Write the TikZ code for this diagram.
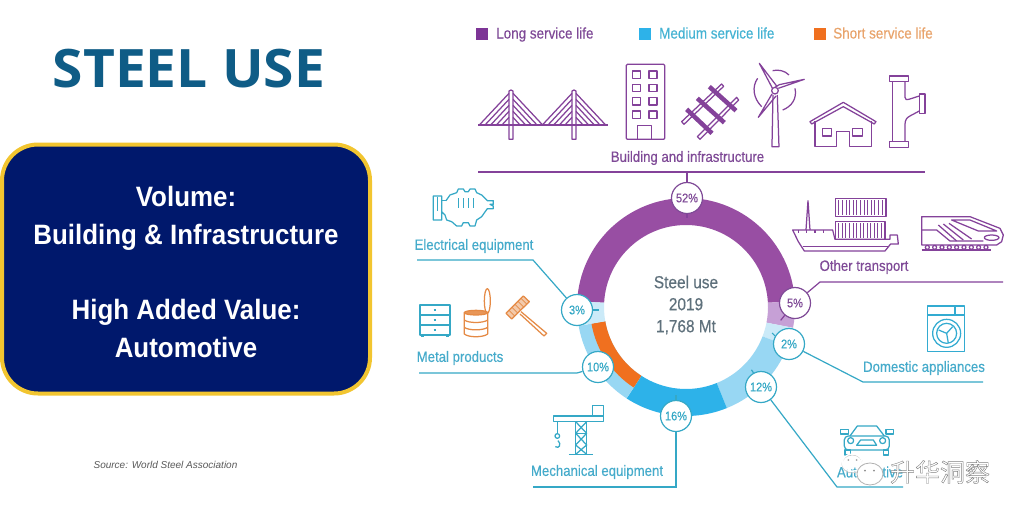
\documentclass[tikz,border=0pt]{standalone}
\usepackage{fontspec}
\setmainfont{Liberation Sans}
\newfontfamily\nar[FakeStretch=0.88,FakeBold=0.35]{Liberation Sans}
\newfontfamily\narb[FakeStretch=0.925]{Liberation Sans Bold}
\newfontfamily\titlef[FakeStretch=1.04]{Open Sans Bold}
\newfontfamily\cjk{Noto Sans CJK SC}
\definecolor{pur}{HTML}{84429A}
\definecolor{purT}{HTML}{7F4A97}
\definecolor{purS}{HTML}{7D3596}
\definecolor{purR}{HTML}{984EA3}
\definecolor{purL}{HTML}{C6A0D6}
\definecolor{palB}{HTML}{CBEAF8}
\definecolor{ligB}{HTML}{98D7F3}
\definecolor{midB}{HTML}{2DB2E9}
\definecolor{org}{HTML}{F0701F}
\definecolor{orgI}{HTML}{E58A45}
\definecolor{orgT}{HTML}{E9A46C}
\definecolor{teal}{HTML}{35A8C6}
\definecolor{tealT}{HTML}{45ABCB}
\definecolor{medT}{HTML}{45B3D3}
\definecolor{greyT}{HTML}{5F717C}
\definecolor{navy}{HTML}{00186C}
\definecolor{gold}{HTML}{F2C530}
\definecolor{titleC}{HTML}{0F5C86}
\tikzset{
  pct/.style={circle,draw=#1,line width=1.2pt,fill=white,minimum size=31pt,inner sep=0pt,text=#1,font=\nar\fontsize{12.5}{14}\selectfont},
  lab/.style={inner sep=0pt,text=#1,font=\nar\fontsize{15}{16}\selectfont},
  leg/.style={inner sep=0pt,text=#1,font=\nar\fontsize{15.3}{16}\selectfont,anchor=base west},
  legsq/.style={fill=#1,draw=none,minimum size=12pt,inner sep=0pt},
  conn/.style={draw=#1,line width=1.2pt},
  icP/.style={draw=pur,line width=1.25pt,line join=round},
  icT/.style={draw=teal,line width=1.25pt,line join=round},
  icO/.style={draw=orgI,line width=1.25pt,line join=round},
}
\newcommand{\seg}[5]{\fill[#1] (#2:#5) arc[start angle=#2,end angle=#3,radius=#5] -- (#3:#4) arc[start angle=#3,end angle=#2,radius=#4] -- cycle;}
\begin{document}
\begin{tikzpicture}[x=1pt,y=-1pt]
\useasboundingbox (0,0) rectangle (1024,517);
\fill[white] (0,0) rectangle (1024,517);

% left panel
\node[inner sep=0pt,text=titleC,font=\titlef\fontsize{53}{56}\selectfont] (title) at (189,69) {STEEL USE};
\node[draw=gold,fill=navy,line width=4pt,rounded corners=36pt,minimum width=368pt,minimum height=249pt,inner sep=0pt] (box) at (186,269) {};
\node[align=center,text=white,inner sep=0pt,font=\narb\fontsize{28}{38}\selectfont] (boxtext) at (186,271.5) {Volume:\\Building \& Infrastructure\\[37pt]High Added Value:\\Automotive};
\node[inner sep=0pt,text=black!65,font=\itshape\fontsize{10}{12}\selectfont] (src) at (165.5,465) {Source: World Steel Association};

% legend
\node[legsq=purS] (s1) at (481.5,33.5) {};
\node[leg=purT] (l1) at (496,38.5) {Long service life};
\node[legsq=midB] (s2) at (645,33.5) {};
\node[leg=medT] (l2) at (659,38.5) {Medium service life};
\node[legsq=org] (s3) at (820,33.5) {};
\node[leg=orgT] (l3) at (833,38.5) {Short service life};

% ring
\begin{scope}[shift={(686,307)},y=1pt]
\seg{purR}{3}{177}{82}{109}
\seg{purL}{3}{-11}{82}{109}
\seg{palB}{-11}{-21}{82}{109}
\seg{ligB}{-21}{-68}{82}{109}
\seg{midB}{-68}{-123}{82}{109}
\seg{ligB}{-123}{-170}{82}{109}
\seg{org}{-123}{-170}{82}{96}
\seg{palB}{177}{190}{82}{109}
\end{scope}
\node[align=center,inner sep=0pt,text=greyT,font=\nar\fontsize{17.5}{22}\selectfont] (mid) at (686,305) {Steel use\\2019\\1,768 Mt};

% connector end points
\coordinate (topL) at (478,172);
\coordinate (topR) at (925,172);
\coordinate (topM) at (687,172);
\coordinate (c5a) at (820,282);
\coordinate (c5b) at (1003,282);
\coordinate (c2a) at (863,382);
\coordinate (c2b) at (983,382);
\coordinate (c12a) at (837,487);
\coordinate (c12b) at (903,487);
\coordinate (c16a) at (676,487);
\coordinate (c16b) at (533,487);
\coordinate (c10a) at (577,373);
\coordinate (c10b) at (419,373);
\coordinate (c3a) at (533,260);
\coordinate (c3b) at (417,260);

% percentage nodes
\node[pct=purT] (p52) at (687,198) {52\%};
\node[pct=purT] (p5) at (795,303) {5\%};
\node[pct=teal] (p2) at (789,344) {2\%};
\node[pct=teal] (p12) at (761,387) {12\%};
\node[pct=teal] (p16) at (676,416) {16\%};
\node[pct=teal] (p10) at (598,367) {10\%};
\node[pct=teal] (p3) at (577,310) {3\%};

% connectors
\draw[conn=pur] (topL) -- (topR);
\draw[conn=pur] (topM) -- (p52);
\draw[conn=pur] (p52.south) -- ++(0,4);
\draw[conn=pur] (p5) -- (c5a) -- (c5b);
\draw[conn=pur] (p5.-130) -- ++(-4,5);
\draw[conn=teal] (p2) -- (c2a) -- (c2b);
\draw[conn=teal] (p2.150) -- ++(-3,-3);
\draw[conn=teal] (p12) -- (c12a) -- (c12b);
\draw[conn=teal] (p12.118) -- ++(-2,-3);
\draw[conn=teal] (p16) -- (c16a) -- (c16b);
\draw[conn=teal] (p16.north) -- ++(0,-5);
\draw[conn=teal] (p10) -- (c10a) -- (c10b);
\draw[conn=teal] (p3) -- (c3a) -- (c3b);
\draw[conn=teal] (p3.east) -- ++(6,0);

% labels
\node[lab=purT] (t1) at (687.5,158) {Building and infrastructure};
\node[lab=purT] (t2) at (864,267) {Other transport};
\node[lab=tealT] (t3) at (924,368) {Domestic appliances};
\node[lab=tealT] (t4) at (870,472) {Automotive};
\node[lab=tealT] (t5) at (597,472) {Mechanical equipment};
\node[lab=tealT] (t6) at (460,358) {Metal products};
\node[lab=tealT] (t7) at (474,246) {Electrical equipment};

% ---- icons, top row
\begin{scope}[shift={(460,10)},x=0.3333pt,y=-0.3333pt]
 % bridge
 \foreach \tx in {153,342}{
  \draw[icP] (\tx-6,243) -- (\tx,240) -- (\tx+6,243) -- (\tx+6,388) -- (\tx-6,388) -- cycle;
  \foreach \i in {0,...,4}{
   \draw[icP] (\tx-6,250+\i*18) -- (\tx-95+\i*17,345);
   \draw[icP] (\tx+6,250+\i*18) -- (\tx+95-\i*17,345);
  }
 }
 \draw[pur,line width=1.8pt] (55,345) -- (443,345);
 % building
 \draw[icP,rounded corners=1pt] (499,163) rectangle (614,388);
 \foreach \yy in {183,223,263,303}{
  \draw[icP] (517,\yy) rectangle (541,\yy+22);
  \draw[icP] (567,\yy) rectangle (591,\yy+22);
 }
 \draw[icP] (533,388) -- (533,347) -- (575,347) -- (575,388);
 % rails
 \draw[icP] (665,335) -- (785,222) -- (791,229) -- (672,343) -- cycle;
 \draw[icP] (712,380) -- (830,262) -- (836,270) -- (720,388) -- cycle;
 \draw[pur,line width=4.5pt] (680,298) -- (756,370);
 \draw[pur,line width=4.5pt] (712,265) -- (793,338);
 \draw[pur,line width=4.5pt] (748,230) -- (828,302);
 % turbine
 \draw[icP] (939,255) -- (936,410) -- (957,410) -- (952,255);
 \draw[icP] (938,236) -- (898,160) -- (950,228);
 \draw[icP] (955,235) -- (1033,208) -- (958,224) -- (945,232);
 \draw[icP] (936,252) -- (895,322) -- (948,258);
 \draw[icP,fill=white] (945,242) circle[radius=10];
 \draw[icP] (905,290) .. controls (880,265) and (875,230) .. (893,205);
 \draw[icP] (938,182) .. controls (955,178) and (975,182) .. (987,195);
 \draw[icP] (1005,235) .. controls (1012,265) and (995,290) .. (968,300);
 % house
 \draw[icP] (1050,335) -- (1150,277) -- (1248,335) -- (1243,342) -- (1150,290) -- (1055,342) -- cycle;
 \draw[icP] (1065,334) -- (1065,410) -- (1130,410) -- (1130,365) -- (1168,365) -- (1168,410) -- (1235,410) -- (1235,334);
 \draw[icP] (1087,355) rectangle (1115,378);
 \draw[icP] (1177,355) rectangle (1208,378);
 % pipe
 \draw[icP] (1288,198) rectangle (1345,215);
 \draw[icP] (1288,395) rectangle (1345,412);
 \draw[icP] (1378,252) rectangle (1395,310);
 \draw[icP] (1297,215) -- (1297,395);
 \draw[icP] (1335,215) -- (1335,262) .. controls (1335,270) and (1340,270) .. (1350,267) -- (1378,258);
 \draw[icP] (1378,303) -- (1350,318) .. controls (1340,323) and (1335,330) .. (1335,345) -- (1335,395);
\end{scope}

% ---- icons, left side
\begin{scope}[shift={(400,170)},x=0.3333pt,y=-0.3333pt]
 % motor
 \draw[icT] (138,92) -- (150,75) -- (170,68) -- (175,57) -- (190,57) -- (195,65) -- (205,65) -- (210,57) -- (225,57) -- (230,68) -- (245,75) -- (262,92) -- (280,92) -- (280,103) -- (270,103) -- (280,108) -- (280,116) -- (262,116) -- (245,140) -- (230,150) -- (225,168) -- (210,168) -- (205,158) -- (190,158) -- (185,168) -- (170,168) -- (155,155) -- (140,150) -- (135,135) -- (125,125) -- (125,150) -- (100,150) -- (100,78) -- (125,78) -- (125,125);
 \draw[icT] (112,80) -- (112,122);
 \draw[icT] (125,92) -- (138,92);
 \foreach \xx in {175,190,205,220}{\draw[icT] (\xx,85) -- (\xx,113);}
 % cabinet
 \draw[icT] (60,405) rectangle (150,495);
 \draw[icT] (60,435) -- (150,435);
 \draw[icT] (60,465) -- (150,465);
 \foreach \yy in {420,450,480}{\draw[icT] (101,\yy) -- (109,\yy);}
 \fill[teal] (62,495) rectangle (72,501);
 \fill[teal] (138,495) rectangle (148,501);
 % can
 \draw[icO,fill=orgI!90!white] (228,428) ellipse[x radius=35,y radius=7];
 \draw[icO] (193,428) -- (193,492) .. controls (205,503) and (250,503) .. (263,492) -- (263,428);
 \draw[icO] (193,450) .. controls (205,460) and (250,460) .. (263,450);
 \draw[icO] (193,472) .. controls (205,482) and (250,482) .. (263,472);
 \draw[icO] (262,393) ellipse[x radius=9,y radius=37];
 % razor
 \draw[icO,fill=orgI!45!white] (318,430) -- (370,378) -- (388,395) -- (335,447) -- cycle;
 \foreach \i in {1,2,3,4,5}{\draw[orgI,line width=0.8pt] (318+\i*9,430-\i*9) -- (335+\i*9,447-\i*9);}
 \draw[icO] (363,425) -- (440,490) -- (432,498) -- (360,432);
 % crane
 \draw[icT] (460,738) rectangle (610,755);
 \draw[icT] (578,706) rectangle (610,738);
 \draw[icT] (527,755) -- (527,853);
 \draw[icT] (560,755) -- (560,853);
 \draw[icT] (507,853) -- (578,853);
 \draw[icT] (527,790) -- (560,790);
 \draw[icT] (527,755) -- (560,790) -- (527,825) -- (560,853);
 \draw[icT] (560,755) -- (527,790) -- (560,825) -- (527,853);
 \draw[icT] (472,755) -- (472,790);
 \draw[icT] (472,798) circle[radius=7];
 \draw[icT] (474,812) .. controls (485,822) and (478,838) .. (466,830);
\end{scope}

% ---- icons, right side
\begin{scope}[shift={(650,170)},x=0.3333pt,y=-0.3333pt]
 % ship
 \draw[icP] (428,180) -- (445,215) -- (463,243) -- (705,243) -- (722,222) -- (745,222) -- (742,195) -- (720,195) -- (720,208) -- (555,208) -- (548,180) -- cycle;
 \draw[icP] (458,230) -- (715,230);
 \draw[icP] (468,180) -- (474,92) -- (480,180);
 \foreach \xx in {445,470,495,520}{\draw[icP] (\xx,180) -- (\xx,190);}
 \draw[icP] (556,85) rectangle (708,140);
 \draw[icP] (556,155) rectangle (705,208);
 \foreach \i in {1,...,13}{
  \draw[pur,line width=0.9pt] (556+\i*10.8,90) -- (556+\i*10.8,135);
  \draw[pur,line width=0.9pt] (556+\i*10.6,160) -- (556+\i*10.6,203);
 }
 % train
 \draw[icP] (815,140) -- (960,140) -- (1050,175) -- (1060,195) -- (1055,215) -- (1040,225) -- (815,225) -- cycle;
 \draw[icP] (815,180) -- (860,180) -- (900,213) -- (1000,213);
 \draw[icP] (905,150) -- (960,150) -- (1040,183) -- (985,183) -- cycle;
 \draw[icP] (865,165) -- (920,213);
 \draw[icP] (880,162) -- (940,210);
 \draw[icP] (897,160) -- (965,207);
 \draw[icP] (1025,203) ellipse[x radius=22,y radius=8];
 \foreach \i in {0,...,8}{\draw[icP] (832+\i*22,232) circle[radius=6];}
 \draw[icP] (815,240) -- (1022,240);
 % washer
 \draw[icT,draw=teal!70!midB] (833,408) rectangle (943,545);
 \draw[icT,draw=teal!70!midB] (833,435) -- (943,435);
 \draw[icT,draw=teal!70!midB] (915,408) -- (915,435);
 \draw[icT,draw=teal!70!midB] (890,490) circle[radius=42];
 \draw[icT,draw=teal!70!midB] (890,490) circle[radius=30];
 \draw[icT,draw=teal!70!midB] (890,490) -- (866,480) (890,490) -- (908,470) (890,490) -- (895,519);
 % car
 \draw[icT] (600,798) -- (622,768) -- (680,768) -- (703,798);
 \draw[icT,rounded corners=4pt] (583,798) rectangle (718,840);
 \draw[icT] (572,778) rectangle (595,792);
 \draw[icT] (708,778) rectangle (730,792);
 \draw[icT] (602,812) circle[radius=9];
 \draw[icT] (698,812) circle[radius=9];
 \draw[icT] (620,826) -- (632,810) -- (670,810) -- (680,826) -- cycle;
 \draw[icT] (585,840) rectangle (601,855);
 \draw[icT] (700,840) rectangle (716,855);
 % watermark logo
 \draw[black!20,line width=0.8pt] (607,882) ellipse[x radius=31,y radius=27];
 \draw[white,line width=1.4pt] (607,878) ellipse[x radius=30,y radius=26];
 \fill[black!35] (595,870) circle[radius=3] (620,870) circle[radius=3];
 \draw[black!30,fill=white,line width=0.8pt] (660,912) ellipse[x radius=39,y radius=33];
 \fill[black!45] (645,902) circle[radius=3] (672,902) circle[radius=3];
\end{scope}
\node[inner sep=0pt,font=\cjk\fontsize{25}{28}\selectfont,text=white] (wm) at (940,472) {\special{pdf:code 2 Tr 0.4 w 0.5 0.5 0.5 RG 1 1 1 rg}升华洞察};
\end{tikzpicture}
\end{document}
